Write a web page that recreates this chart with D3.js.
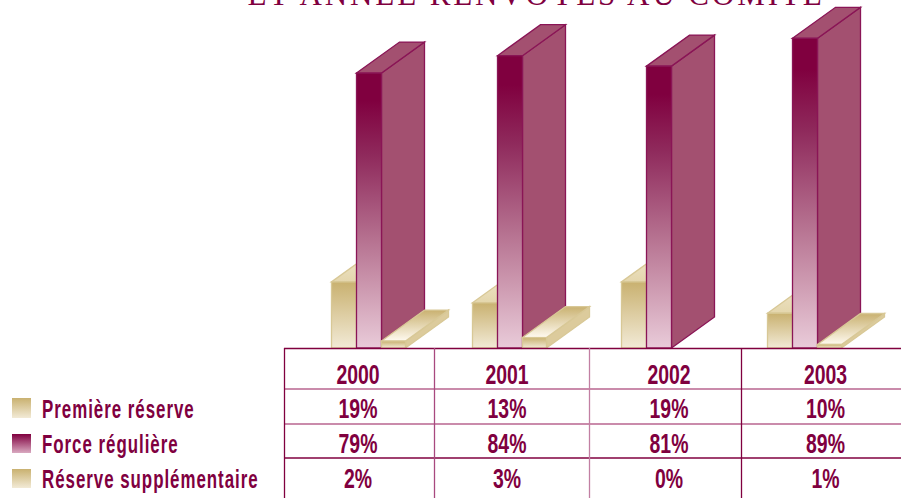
<!DOCTYPE html>
<html>
<head>
<meta charset="utf-8">
<script src="https://cdn.jsdelivr.net/npm/d3@7/dist/d3.min.js"></script>
<style>
html,body{margin:0;padding:0;background:#fff;overflow:hidden}
svg{display:block}
text{fill:#80003f}
.cell,.leg{font-family:"Liberation Sans",sans-serif;font-weight:700}
</style>
</head>
<body>
<svg id="chart" width="901" height="498"></svg>
<script>
const years = ["2000", "2001", "2002", "2003"];
const seriesNames = ["Première réserve", "Force régulière", "Réserve supplémentaire"];
const premiereReserve = [19, 13, 19, 10];
const forceReguliere = [79, 84, 81, 89];
const reserveSupplementaire = [2, 3, 0, 1];
const heading = "ET ANNÉE RENVOYÉS AU COMITÉ";

const MAROON = "#80003f";
const svg = d3.select("#chart");
const base = 348;
const y = d3.scaleLinear().domain([0, 100]).range([base, base - 348]);
const x = d3.scaleOrdinal(years, [356.5, 497.5, 646.5, 792.5]);
const labelX = d3.scaleOrdinal(years, [358, 507, 669, 825.5]);
const barW = 25, depthX = 43, depthY = -31;

// Shared vertical gradients for the faces of the bars
const defs = svg.append("defs");
function gradient(id, stops) {
  const g = defs.append("linearGradient").attr("id", id)
    .attr("x1", 0).attr("y1", 0).attr("x2", 0).attr("y2", 1);
  stops.forEach(([o, c]) => g.append("stop").attr("offset", o).attr("stop-color", c));
}
gradient("forceFront", [[0, "#80003f"], [0.1, "#80003f"], [0.3, "#8f2a5c"], [0.6, "#b5708f"], [0.8, "#cf9db3"], [1, "#e9cbd9"]]);
gradient("forceSwatch", [[0, "#80003f"], [1, "#d9a9c0"]]);
gradient("sandFront", [[0, "#c9b170"], [1, "#f2ead6"]]);
gradient("sandTop", [[0, "#f0e6cc"], [1, "#e4d6ac"]]);
gradient("sandLid", [[0, "#c9b170"], [1, "#fffaf0"]]);
gradient("sandSwatch", [[0, "#c9b170"], [1, "#f2ead6"]]);

const poly = pts => pts.map(p => p.join(",")).join(" ");

function drawBar(group, x0, width, value, c) {
  const top = y(value), x1 = x0 + width;
  if (value <= 0) return;
  group.append("polygon")
    .attr("points", poly([[x1, top], [x1 + depthX, top + depthY], [x1 + depthX, base + depthY], [x1, base]]))
    .attr("fill", c.side).attr("stroke", c.sideStroke).attr("stroke-width", 1.3);
  group.append("polygon")
    .attr("points", poly([[x0, top], [x0 + depthX, top + depthY], [x1 + depthX, top + depthY], [x1, top]]))
    .attr("fill", c.top).attr("stroke", c.sideStroke).attr("stroke-width", 1.3);
  group.append("rect")
    .attr("x", x0).attr("y", top).attr("width", width).attr("height", base - top)
    .attr("fill", c.front).attr("stroke", c.stroke).attr("stroke-width", 1.3);
}

const sandRear = { side: "#dccb9c", sideStroke: "#d8c896", top: "url(#sandTop)", front: "url(#sandFront)", stroke: "#d8c896" };
const sandLow = { side: "#dccb9c", sideStroke: "#d8c896", top: "url(#sandLid)", front: "url(#sandFront)", stroke: "#d8c896" };
const force = { side: "#a35070", sideStroke: "#8a1556", top: "#a35070", front: "url(#forceFront)", stroke: "#8a1556" };

const bars = svg.append("g").attr("class", "bars");
years.forEach((yr, i) => {
  const g = bars.append("g");
  drawBar(g, x(yr) - barW, barW, premiereReserve[i], sandRear);
  drawBar(g, x(yr), barW, forceReguliere[i], force);
  drawBar(g, x(yr) + barW, barW - 1, reserveSupplementaire[i], sandLow);
});

// Heading, cut by the top edge of the page
svg.append("text").attr("x", 536).attr("y", 5)
  .attr("text-anchor", "middle")
  .attr("font-family", "Liberation Serif").attr("font-size", 31)
  .attr("letter-spacing", 2.9).text(heading);

// Data table below the bars
const table = svg.append("g").attr("class", "table");
const rowLines = [[348.5, MAROON], [389, "#b9648f"], [424, "#b9648f"], [458, MAROON]];
rowLines.forEach(([ly, c]) => table.append("line")
  .attr("x1", 284).attr("x2", 901).attr("y1", ly).attr("y2", ly)
  .attr("stroke", c).attr("stroke-width", 1.5));
const colLines = [[284.5, MAROON], [434.5, "#a8497f"], [589.5, "#c27fa3"], [741.5, MAROON]];
colLines.forEach(([lx, c]) => table.append("line")
  .attr("x1", lx).attr("x2", lx).attr("y1", 348).attr("y2", 498)
  .attr("stroke", c).attr("stroke-width", 1.3));

const rows = [
  { base: 384, cells: years },
  { base: 418, cells: premiereReserve.map(v => v + "%") },
  { base: 453, cells: forceReguliere.map(v => v + "%") },
  { base: 488, cells: reserveSupplementaire.map(v => v + "%") }
];
rows.forEach(r => {
  r.cells.forEach((t, i) => {
    table.append("text").attr("class", "cell")
      .attr("transform", `translate(${labelX(years[i])},${r.base}) scale(0.72,1)`)
      .attr("text-anchor", "middle").attr("font-size", 27).text(t);
  });
});

// Legend on the left
const legendRows = [
  { y: 398, h: 20, base: 418, fill: "url(#sandSwatch)" },
  { y: 434, h: 19, base: 453, fill: "url(#forceSwatch)" },
  { y: 469, h: 19, base: 488, fill: "url(#sandSwatch)" }
];
seriesNames.forEach((name, i) => {
  const l = legendRows[i];
  svg.append("rect").attr("x", 12).attr("y", l.y).attr("width", 19).attr("height", l.h).attr("fill", l.fill);
  svg.append("text").attr("class", "leg")
    .attr("transform", `translate(42,${l.base}) scale(0.65,1)`)
    .attr("font-size", 26).attr("letter-spacing", 1.5).text(name);
});
</script>
</body>
</html>
